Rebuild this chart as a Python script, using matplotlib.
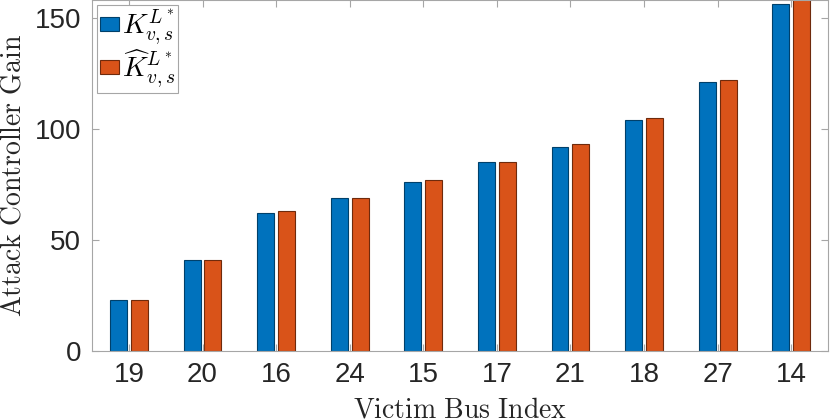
import numpy as np
import matplotlib
matplotlib.use("Agg")
import matplotlib.pyplot as plt

buses = ["19", "20", "16", "24", "15", "17", "21", "18", "27", "14"]
k_opt = [23, 41, 62, 69, 76, 85, 92, 104, 121, 156]
k_hat = [23, 41, 63, 69, 77, 85, 93, 105, 122, 160]

plt.rcParams['mathtext.fontset'] = 'cm'
plt.rcParams['font.family'] = ['Liberation Sans', 'DejaVu Sans']

fig = plt.figure(figsize=(8.3, 4.2), dpi=100)
ax = fig.add_axes([0.111, 0.164, 0.8866, 0.836])

x = np.arange(len(buses))
w = 0.23
ax.bar(x - 0.142, k_opt, w, color='#0072BD', edgecolor='#00406a', linewidth=0.8,
       label=r'$K_{v,s}^{L^*}$')
ax.bar(x + 0.142, k_hat, w, color='#D95319', edgecolor='#6e2a0c', linewidth=0.8,
       label=r'$\widehat{K}_{v,s}^{L^*}$')

ax.set_xlim(-0.5, 9.5)
ax.set_ylim(0, 158)
ax.set_xticks(x)
ax.set_xticklabels(buses)
ax.set_yticks([0, 50, 100, 150])

for s in ax.spines.values():
    s.set_color('#a6a6a6')
    s.set_linewidth(0.8)
ax.tick_params(direction='in', length=5, color='#a6a6a6', labelsize=20,
               labelcolor='#262626', top=True, right=True, pad=8)

ax.set_ylabel(r'$\mathrm{Attack\ Controller\ Gain}$', fontsize=20, color='#262626', labelpad=6)
ax.set_xlabel(r'$\mathrm{Victim\ Bus\ Index}$', fontsize=20, color='#262626', labelpad=7)

leg = ax.legend(loc='upper left', bbox_to_anchor=(0.007, 0.986), fontsize=20,
                handlelength=0.68, handleheight=0.42, handletextpad=0.12,
                borderpad=0.1, labelspacing=0.02, fancybox=False, framealpha=1,
                borderaxespad=0)
leg.get_frame().set_edgecolor('#a6a6a6')
leg.get_frame().set_linewidth(0.8)

fig.savefig('out.png', dpi=100)
